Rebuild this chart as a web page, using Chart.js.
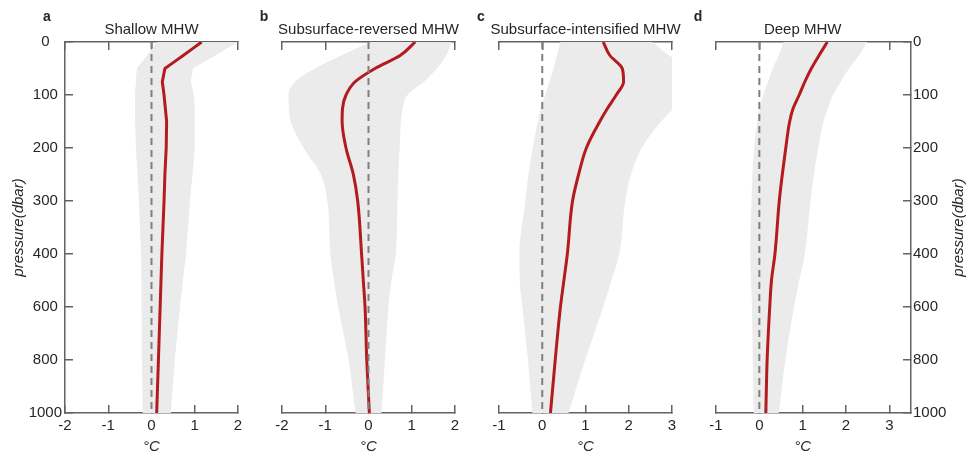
<!DOCTYPE html>
<html>
<head>
<meta charset="utf-8">
<script src="https://cdn.jsdelivr.net/npm/chart.js@4.4.1/dist/chart.umd.min.js"></script>
<style>
	html, body { margin: 0; padding: 0; background: #fff; }
	#wrap { position: relative; width: 968px; height: 453px; }
	#wrap canvas { position: absolute; left: 0; top: 0; }
</style>
</head>
<body>
<div id="wrap">
	<canvas id="panelA" width="968" height="453"></canvas>
	<canvas id="panelB" width="968" height="453"></canvas>
	<canvas id="panelC" width="968" height="453"></canvas>
	<canvas id="panelD" width="968" height="453"></canvas>
</div>
<script>
'use strict';

// Pressure levels (dbar) shared by all profiles
var pressure = [0, 25, 50, 75, 100, 125, 150, 200, 250, 300, 400, 500, 600, 800, 1000];
var yTickLabels = ['0', '100', '200', '300', '400', '600', '800', '1000'];

// a - Shallow MHW
var shallowMean = [1.16, 0.74, 0.31, 0.25, 0.29, 0.32, 0.35, 0.34, 0.31, 0.29, 0.24, 0.22, 0.20, 0.16, 0.12];
var shallowLow  = [0.13, -0.10, -0.34, -0.36, -0.38, -0.38, -0.38, -0.36, -0.32, -0.29, -0.24, -0.23, -0.23, -0.22, -0.20];
var shallowHigh = [2.00, 1.48, 0.96, 0.91, 0.98, 1.00, 1.00, 1.00, 0.95, 0.89, 0.80, 0.73, 0.66, 0.54, 0.45];

// b - Subsurface-reversed MHW
var reversedMean = [1.08, 0.74, 0.15, -0.31, -0.52, -0.60, -0.61, -0.52, -0.35, -0.25, -0.16, -0.12, -0.08, -0.04, 0.02];
var reversedLow  = [0.05, -0.62, -1.24, -1.70, -1.85, -1.84, -1.80, -1.50, -1.10, -0.95, -0.88, -0.80, -0.70, -0.46, -0.30];
var reversedHigh = [1.92, 1.80, 1.58, 1.28, 0.90, 0.79, 0.75, 0.72, 0.69, 0.67, 0.63, 0.53, 0.46, 0.38, 0.30];

// c - Subsurface-intensified MHW
var intensifiedMean = [1.41, 1.56, 1.85, 1.88, 1.71, 1.51, 1.33, 1.02, 0.84, 0.70, 0.58, 0.50, 0.42, 0.30, 0.19];
var intensifiedLow  = [0.42, 0.34, 0.26, 0.17, 0.07, -0.03, -0.10, -0.22, -0.32, -0.39, -0.53, -0.52, -0.46, -0.33, -0.23];
var intensifiedHigh = [2.54, 2.93, 3.40, 3.62, 3.42, 3.05, 2.75, 2.30, 2.05, 1.92, 1.78, 1.60, 1.41, 0.99, 0.61];

// d - Deep MHW
var deepMean = [1.57, 1.38, 1.20, 1.05, 0.92, 0.78, 0.70, 0.61, 0.53, 0.46, 0.36, 0.28, 0.24, 0.18, 0.15];
var deepLow  = [0.56, 0.45, 0.31, 0.20, 0.09, 0.01, -0.05, -0.12, -0.16, -0.18, -0.21, -0.19, -0.17, -0.15, -0.13];
var deepHigh = [2.49, 2.30, 2.07, 1.88, 1.70, 1.58, 1.48, 1.36, 1.26, 1.18, 1.05, 0.92, 0.80, 0.60, 0.45];

var FONT = "'Liberation Sans', Arial, sans-serif";
var AXIS_COLOR = '#636363';
var TEXT_COLOR = '#262626';
var RED = '#b31b1e';
var SHADE = '#ebebeb';
var ZERO_COLOR = '#808080';
var W = 968;

// the depth axis is stretched: 0-400 dbar linear, 400-1000 at half scale
function toAxis(p) {
	return p <= 400 ? p : 400 + (p - 400) / 2;
}

function points(values) {
	return values.map(function(v, i) {
		return { x: v, y: toAxis(pressure[i]) };
	});
}

// Letter, title, x unit and (right-hand) depth label
var panelText = {
	id: 'panelText',
	afterDraw: function(chart, args, opts) {
		var ctx = chart.ctx;
		var area = chart.chartArea;
		var xs = chart.scales.x;
		var ticks = xs.ticks;
		var mid = (xs.getPixelForValue(ticks[0].value) + xs.getPixelForValue(ticks[ticks.length - 1].value)) / 2;

		ctx.save();
		ctx.fillStyle = TEXT_COLOR;
		ctx.textAlign = 'center';
		ctx.textBaseline = 'alphabetic';
		ctx.font = 'bold 14px ' + FONT;
		ctx.fillText(opts.letter, area.left - 18, 21);
		ctx.font = '15px ' + FONT;
		ctx.fillText(opts.title, mid, 34);
		ctx.font = 'italic 15px ' + FONT;
		ctx.fillText('\u00B0C', mid, 451);

		if (opts.rightLabel) {
			ctx.translate(opts.rightLabelX, (area.top + area.bottom) / 2);
			ctx.rotate(-Math.PI / 2);
			ctx.textBaseline = 'middle';
			ctx.fillText('pressure(dbar)', 0, 0);
		}
		ctx.restore();
	}
};

var panels = [
	{ id: 'panelA', letter: 'a', title: 'Shallow MHW', xMin: -2, xMax: 2, left: 65, right: 238, yAxis: 'left',
		mean: shallowMean, low: shallowLow, high: shallowHigh, smooth: false, overflow: 0 },
	{ id: 'panelB', letter: 'b', title: 'Subsurface-reversed MHW', xMin: -2, xMax: 2, left: 282, right: 455, yAxis: 'none',
		mean: reversedMean, low: reversedLow, high: reversedHigh, smooth: true, overflow: 0 },
	{ id: 'panelC', letter: 'c', title: 'Subsurface-intensified MHW', xMin: -1, xMax: 3, left: 499, right: 672, yAxis: 'none',
		mean: intensifiedMean, low: intensifiedLow, high: intensifiedHigh, smooth: true, overflow: 40 },
	{ id: 'panelD', letter: 'd', title: 'Deep MHW', xMin: -1, xMax: 3.5, left: 716, right: 911, yAxis: 'right',
		mean: deepMean, low: deepLow, high: deepHigh, smooth: true, overflow: 0 }
];

function gridOptions() {
	return {
		drawOnChartArea: false,
		drawTicks: true,
		tickLength: -8,  // ticks point into the plot
		color: AXIS_COLOR,
		lineWidth: 1.5
	};
}

function makeChart(panel) {
	var yVisible = panel.yAxis !== 'none';
	var leftAxisW = 65, rightAxisW = W - panel.right;

	var xBottom = {
		type: 'linear', position: 'bottom', min: panel.xMin, max: panel.xMax, z: 1,
		border: { color: AXIS_COLOR, width: 1.5 },
		grid: gridOptions(),
		ticks: {
			stepSize: 1, includeBounds: false, padding: 12, maxRotation: 0, autoSkip: false,
			color: TEXT_COLOR, font: { family: FONT, size: 15 },
			callback: function(v) { return String(v); }
		},
		afterFit: function(s) { s.height = 40; }
	};

	var xTop = {
		type: 'linear', axis: 'x', position: 'top', min: panel.xMin, max: panel.xMax, z: 1,
		border: { color: AXIS_COLOR, width: 1.5 },
		grid: gridOptions(),
		ticks: { stepSize: 1, includeBounds: false, display: false },
		afterFit: function(s) { s.height = 42; }
	};

	var yScale = {
		type: 'linear', position: panel.yAxis === 'right' ? 'right' : 'left', display: yVisible,
		min: 0, max: 700, reverse: true, z: 1,
		border: { color: AXIS_COLOR, width: 1.5 },
		grid: gridOptions(),
		ticks: {
			stepSize: 100, autoSkip: false,
			padding: panel.yAxis === 'right' ? 10 : 11,
			crossAlign: panel.yAxis === 'right' ? 'near' : 'center',
			color: TEXT_COLOR, font: { family: FONT, size: 15 },
			callback: function(v) { return yTickLabels[Math.round(v / 100)]; }
		},
		title: {
			display: panel.yAxis === 'left',
			text: 'pressure(dbar)',
			color: TEXT_COLOR,
			font: { family: FONT, size: 15, style: 'italic' },
			padding: { top: 10, bottom: 0 }
		}
	};
	if (yVisible) {
		yScale.afterFit = function(s) { s.width = panel.yAxis === 'left' ? leftAxisW : rightAxisW; };
	}

	var padLeft = panel.yAxis === 'left' ? panel.left - leftAxisW : panel.left;
	var padRight = panel.yAxis === 'right' ? 0 : W - panel.right;
	var yTop = toAxis(pressure[0]);
	var yBottom = toAxis(pressure[pressure.length - 1]);

	// a tiny tension keeps Chart.js off its x-ordered fast path, which breaks vertical profiles
	var lineMode = panel.smooth ? { cubicInterpolationMode: 'monotone' } : { tension: 0.000001 };

	return new Chart(document.getElementById(panel.id), {
		type: 'line',
		data: {
			datasets: [
				{ label: 'zero', data: [{ x: 0, y: yTop }, { x: 0, y: yBottom }],
					borderColor: ZERO_COLOR, borderWidth: 2, borderDash: [7, 5], fill: false,
					xAxisID: 'x', yAxisID: 'y', order: 0 },
				Object.assign({ label: 'mean', data: points(panel.mean),
					borderColor: RED, borderWidth: 3, borderJoinStyle: 'round', fill: false,
					xAxisID: 'x', yAxisID: 'y', order: 1 }, lineMode),
				Object.assign({ label: 'low', data: points(panel.low),
					borderColor: 'rgba(0,0,0,0)', borderWidth: 1, fill: false,
					xAxisID: 'x', yAxisID: 'y', order: 3 }, lineMode),
				Object.assign({ label: 'high', data: points(panel.high),
					borderColor: 'rgba(0,0,0,0)', borderWidth: 1, backgroundColor: SHADE, fill: 2,
					clip: { left: 2, right: panel.overflow + 2, top: 2, bottom: 2 },
					xAxisID: 'x', yAxisID: 'y', order: 2 }, lineMode)
			]
		},
		options: {
			responsive: false,
			animation: false,
			events: [],
			indexAxis: 'y',
			layout: { padding: { left: padLeft, right: padRight, top: 0, bottom: 0 } },
			elements: { point: { radius: 0 } },
			plugins: {
				legend: { display: false },
				tooltip: { enabled: false },
				panelText: {
					letter: panel.letter, title: panel.title,
					rightLabel: panel.yAxis === 'right', rightLabelX: 959
				}
			},
			scales: { x: xBottom, xTop: xTop, y: yScale }
		},
		plugins: [panelText]
	});
}

panels.forEach(makeChart);
</script>
</body>
</html>
